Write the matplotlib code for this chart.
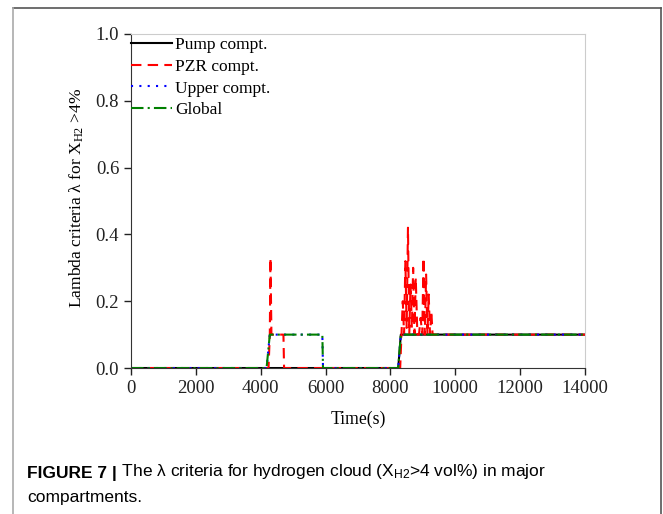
import matplotlib
matplotlib.use('Agg')
import matplotlib.pyplot as plt
from matplotlib.lines import Line2D

# data
pump_t = [0, 8240, 8320, 14000]
pump_v = [0, 0, 0.1, 0.1]

pzr_t = [0, 4240, 4280, 4300, 4330, 4360, 4700, 4720, 8300, 8340, 8380, 8420,
         8460, 8500, 8540, 8580, 8620, 8660, 8700, 8740, 8780, 8830, 8880, 8930,
         8980, 9020, 9060, 9100, 9140, 9180, 9220, 9260, 9300, 9340, 14000]
pzr_v = [0, 0, 0.1, 0.33, 0.1, 0.1, 0.1, 0, 0, 0.1, 0.2, 0.1,
         0.32, 0.12, 0.42, 0.1, 0.25, 0.12, 0.3, 0.1, 0.27, 0.1, 0.1, 0.15,
         0.1, 0.33, 0.1, 0.28, 0.1, 0.22, 0.1, 0.17, 0.1, 0.1, 0.1]

upper_t = [0, 4180, 4280, 5900, 5920, 8240, 8320, 14000]
upper_v = [0, 0, 0.1, 0.1, 0, 0, 0.1, 0.1]

global_t = [0, 4180, 4280, 5900, 5920, 8240, 8320, 14000]
global_v = [0, 0, 0.1, 0.1, 0, 0, 0.1, 0.1]

xticks = [0, 2000, 4000, 6000, 8000, 10000, 12000, 14000]
yticks = [0.0, 0.2, 0.4, 0.6, 0.8, 1.0]

serif = ['Liberation Serif', 'DejaVu Serif']
sans = ['Liberation Sans Narrow', 'Liberation Sans', 'DejaVu Sans']
plt.rcParams['font.family'] = serif
plt.rcParams['mathtext.fontset'] = 'custom'
plt.rcParams['mathtext.rm'] = 'Liberation Serif'
plt.rcParams['mathtext.it'] = 'Liberation Serif:italic'

fig = plt.figure(figsize=(6.63, 5.14), dpi=100)
ax = fig.add_axes([0.1976, 0.284, 0.6848, 0.6499])

ax.plot(pump_t, pump_v, color='black', lw=1.5, label='Pump compt.')
ax.plot(pzr_t, pzr_v, color='red', lw=1.5, ls=(0, (5, 3)), label='PZR compt.')
ax.plot(upper_t, upper_v, color='blue', lw=1.5, ls=(0, (1, 3)), label='Upper compt.')
ax.plot(global_t, global_v, color='green', lw=1.5, ls=(0, (6, 2, 1, 2)), label='Global')

ax.set_xlim(0, 14000)
ax.set_ylim(0, 1.0)
ax.set_xticks(xticks)
ax.set_yticks(yticks)
ax.set_yticklabels(['%.1f' % v for v in yticks])
ax.tick_params(direction='out', length=5, width=1, labelsize=13.5, colors='#222222')
for s in ['top', 'right']:
    ax.spines[s].set_color('#cccccc')
for s in ['left', 'bottom']:
    ax.spines[s].set_color('#333333')

ax.set_xlabel('Time(s)', fontsize=12.7, labelpad=10)
ax.set_ylabel('Lambda criteria \u03bb for X$_{\\mathregular{H2}}$ >4%', fontsize=12.6)
ax.yaxis.set_label_coords(-0.10, 0.51)

ax.legend(loc='upper left', frameon=False, fontsize=12.5, handlelength=2.35,
          handletextpad=0.2, labelspacing=0.31, borderaxespad=0.0, borderpad=0.0,
          bbox_to_anchor=(0.0, 0.99))

# figure frame
fig.add_artist(Line2D([13 / 663, 661 / 663], [1 - 8 / 514, 1 - 8 / 514], color='#555555', lw=1.2))
fig.add_artist(Line2D([13 / 663, 13 / 663], [0, 1 - 8 / 514], color='#aaaaaa', lw=1.2))
fig.add_artist(Line2D([661 / 663, 661 / 663], [0, 1 - 8 / 514], color='#555555', lw=1.2))

# caption
cap = fig.text(27 / 663, 1 - 478 / 514, 'FIGURE 7 |', fontsize=12.5, fontweight='bold',
               family=sans, va='baseline')
ax.annotate(' The \u03bb criteria for hydrogen cloud (X$_{\\mathregular{H2}}$>4 vol%) in major',
            xy=(1, 0), xycoords=cap, va='bottom', ha='left', fontsize=12.5, family=sans,
            annotation_clip=False)
fig.text(27 / 663, 1 - 502 / 514, 'compartments.', fontsize=12.5, family=sans, va='baseline')

plt.savefig('out.png', dpi=100)
